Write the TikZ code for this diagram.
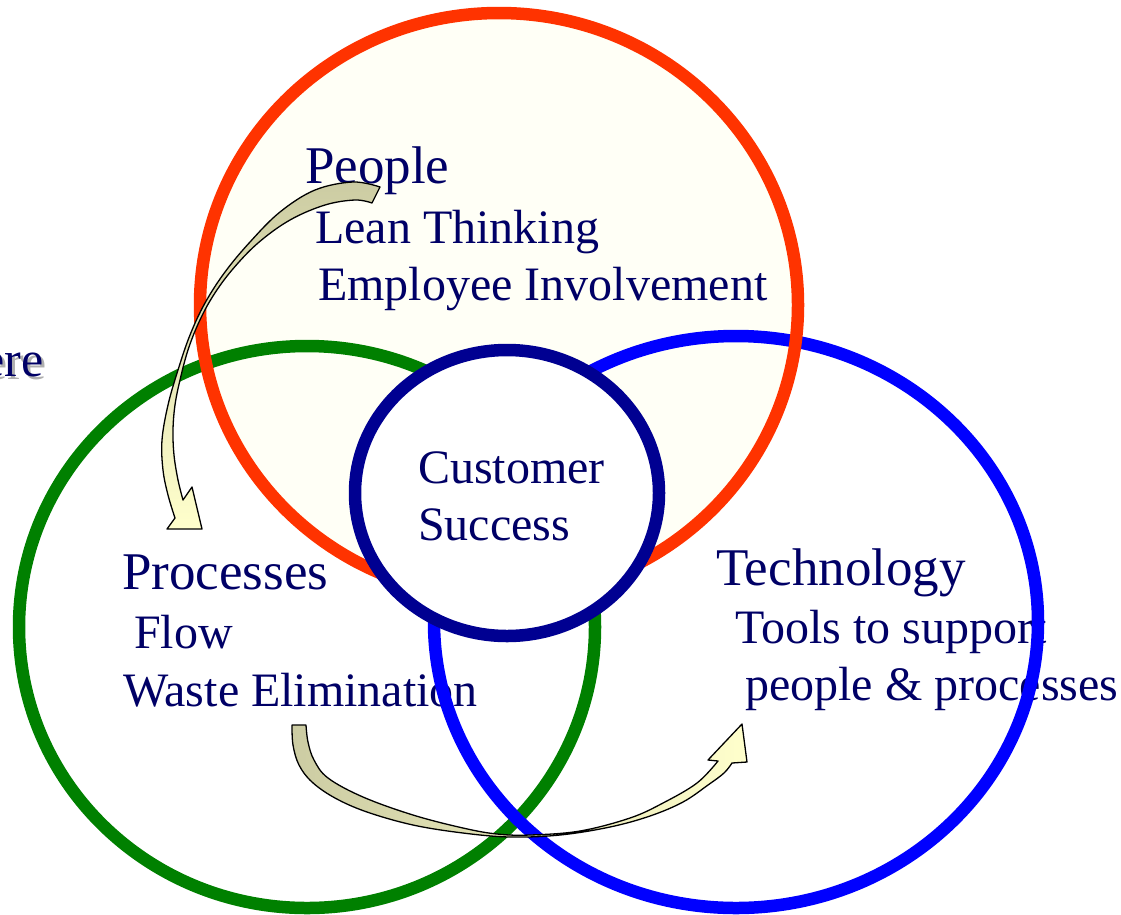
\documentclass[tikz,border=0pt]{standalone}
\usepackage{fontspec}
\setmainfont{Liberation Serif}
\definecolor{redc}{RGB}{255,51,0}
\definecolor{greenc}{RGB}{0,128,0}
\definecolor{bluec}{RGB}{0,0,255}
\definecolor{navyc}{RGB}{0,0,145}
\definecolor{txt}{RGB}{0,0,102}
\definecolor{cream}{RGB}{255,255,246}
\definecolor{khaki}{RGB}{204,204,163}
\definecolor{paleyel}{RGB}{255,255,204}
\definecolor{shadowc}{RGB}{175,175,175}
\begin{document}
\begin{tikzpicture}[x=1pt,y=-1pt,
  ring/.style={line width=12.5pt},
  headtext/.style={font=\fontsize{53}{60}\selectfont, text=txt, anchor=base west, inner sep=0pt},
  itemtext/.style={font=\fontsize{48}{56}\selectfont, text=txt, anchor=base west, inner sep=0pt},
  blockarrow/.style={draw=black, line width=1.3pt, line join=round}]
\useasboundingbox (0,0) rectangle (1121,914);
% fill of the People circle
\fill[cream] (499,305) ellipse [x radius=299, y radius=292];
% texts
\node[font=\fontsize{50}{56}\selectfont, text=shadowc, anchor=base east, inner sep=0pt] (ereshadow) at (47,379) {ere};
\node[font=\fontsize{50}{56}\selectfont, text=txt, anchor=base east, inner sep=0pt] (ere) at (44,376) {ere};
\node[headtext] (people) at (305,183) {People};
\node[itemtext] (lean) at (315,243) {Lean Thinking};
\node[itemtext] (employee) at (318,300) {Employee Involvement};
\node[headtext] (processes) at (122,589) {Processes};
\node[itemtext] (flow) at (134,648) {Flow};
\node[itemtext] (waste) at (123,706) {Waste Elimination};
\node[headtext] (technology) at (716,585) {Technology};
\node[itemtext] (tools) at (735,643) {Tools to support};
\node[itemtext] (pp) at (745,700) {people \& processes};
% rings
\draw[ring, greenc] (307,627) ellipse [x radius=288, y radius=281];
\draw[ring, bluec] (736,622) ellipse [x radius=302, y radius=286];
\draw[ring, redc] (499,305) ellipse [x radius=299, y radius=292];
% arrow People -> Processes
\shadedraw[blockarrow, top color=khaki, bottom color=paleyel]
  plot[smooth, tension=0.6] coordinates {(380,187) (353,182) (315,190) (280,212) (250,242) (225,272) (205,303) (190,335) (178,370) (168,405) (162,440) (163,470) (168,495) (175,518)}
  -- (167,529) -- (202,529) -- (192,487) -- (183,500)
  -- plot[smooth, tension=0.6] coordinates {(183,500) (178,480) (174,455) (173,430) (175,405) (180,380) (188,350) (199,322) (213,296) (232,270) (258,243) (290,220) (325,205) (355,200) (372,203)}
  -- cycle;
% arrow Processes -> Technology
\shadedraw[blockarrow, left color=khaki, right color=paleyel]
  (306,725) -- (292,725)
  -- plot[smooth, tension=0.6] coordinates {(292,725) (293,745) (299,765) (312,782) (335,798) (367,812) (413,825) (463,833) (510,837) (560,835) (610,827) (650,816) (683,802) (708,785) (724,773) (732,763)}
  -- (747,762) -- (742,724) -- (708,760) -- (718,761)
  -- plot[smooth, tension=0.6] coordinates {(718,761) (697,783) (663,803) (630,818) (580,831) (530,835) (497,834) (463,828) (413,815) (363,797) (328,778) (314,760) (308,742) (306,725)}
  -- cycle;
% centre
\filldraw[ring, draw=navyc, fill=white] (507,493) ellipse [x radius=152, y radius=143];
\node[itemtext] (customer) at (418,483) {Customer};
\node[itemtext] (success) at (418,540) {Success};
\end{tikzpicture}
\end{document}
